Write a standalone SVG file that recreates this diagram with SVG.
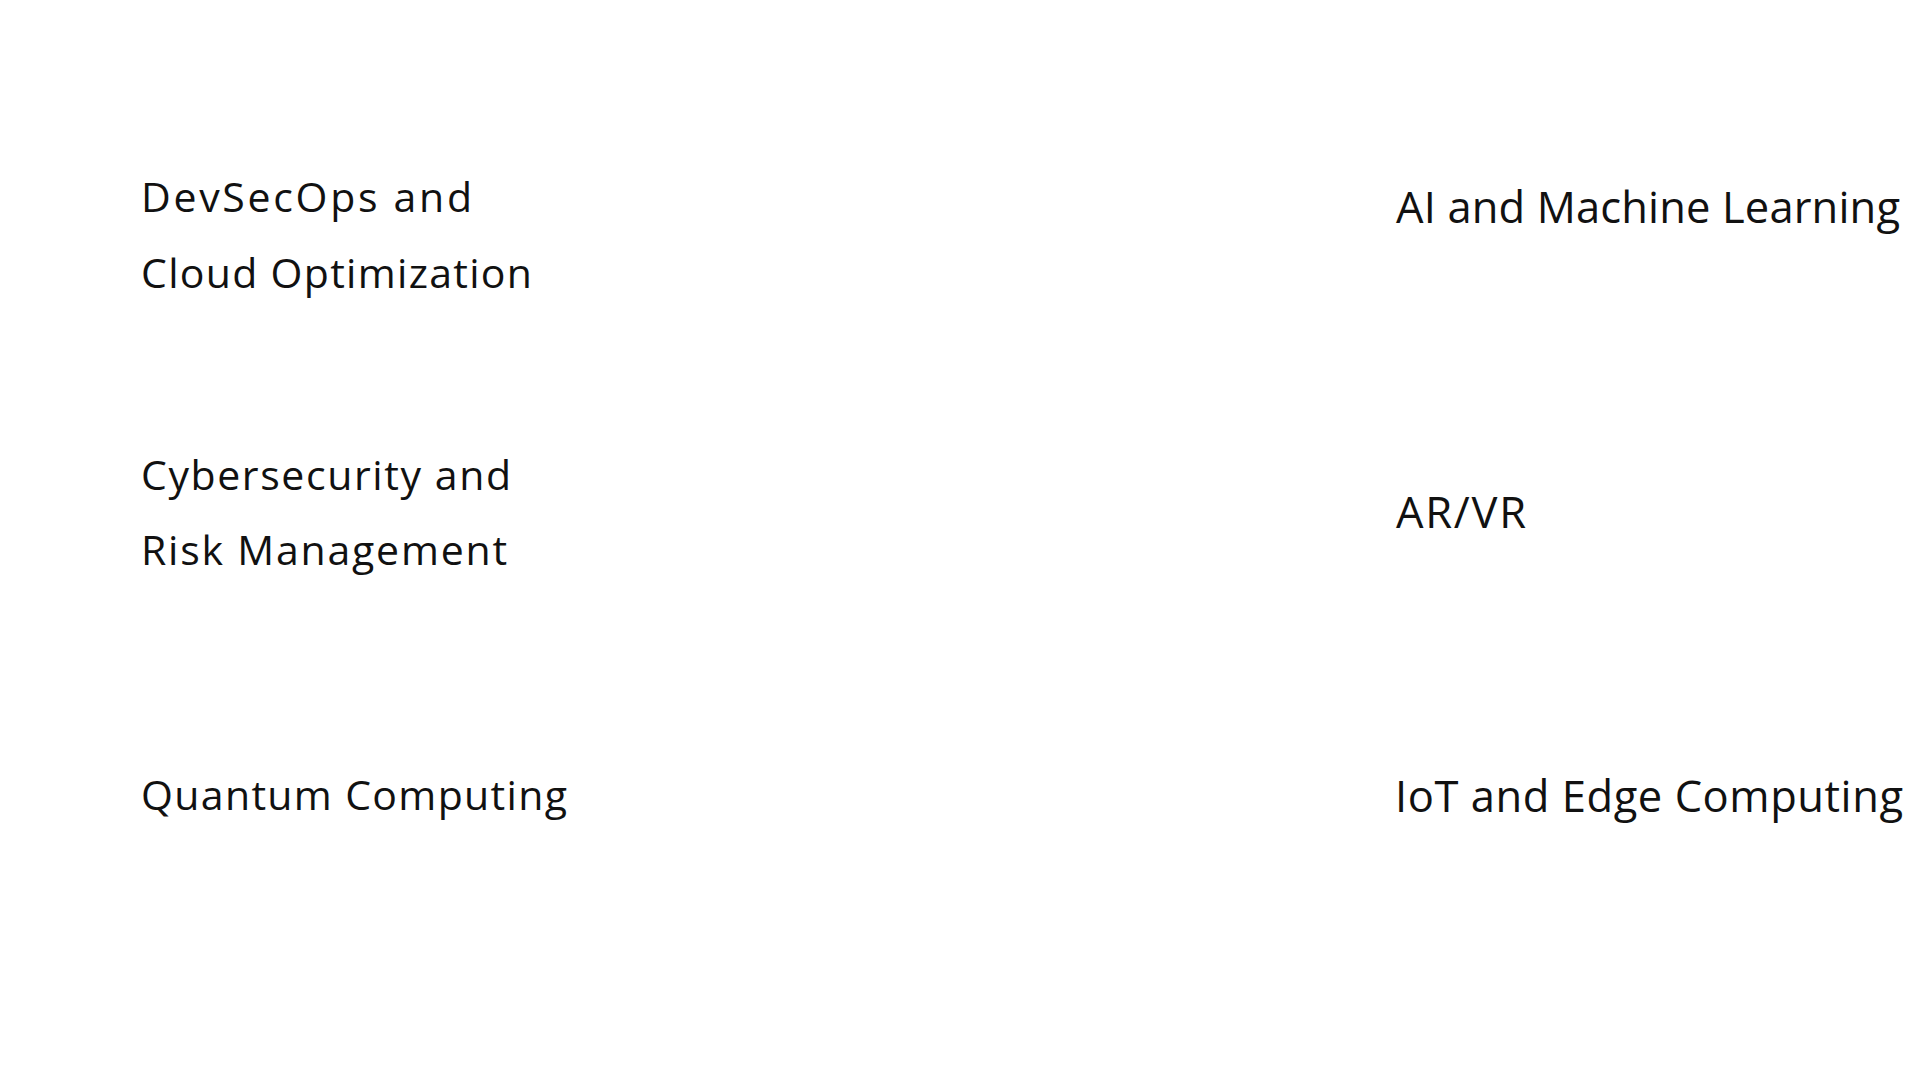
<svg xmlns="http://www.w3.org/2000/svg" width="1920" height="1080" viewBox="0 0 1920 1080">
<style>
.t{font-family:"Open Sans","Noto Sans","Liberation Sans",sans-serif;fill:#111111;}
.l{font-size:41px;}
.r{font-size:43.5px;}
</style>
<rect x="0" y="0" width="1920" height="1080" fill="#ffffff"/>
<g id="devsecops">
<text class="t l" x="141" y="212" textLength="331">DevSecOps and</text>
<text class="t l" x="141" y="288" textLength="391">Cloud Optimization</text>
</g>
<g id="cybersecurity">
<text class="t l" x="141" y="490" textLength="370">Cybersecurity and</text>
<text class="t l" x="141" y="565" textLength="366">Risk Management</text>
</g>
<g id="quantum">
<text class="t l" x="141" y="810" textLength="426">Quantum Computing</text>
</g>
<g id="ai-ml">
<text class="t r" x="1396" y="223" textLength="504">AI and Machine Learning</text>
</g>
<g id="ar-vr">
<text class="t r" x="1396" y="528" textLength="130">AR/VR</text>
</g>
<g id="iot-edge">
<text class="t r" x="1395" y="812" textLength="508">IoT and Edge Computing</text>
</g>
<g id="connectors"></g>
</svg>
